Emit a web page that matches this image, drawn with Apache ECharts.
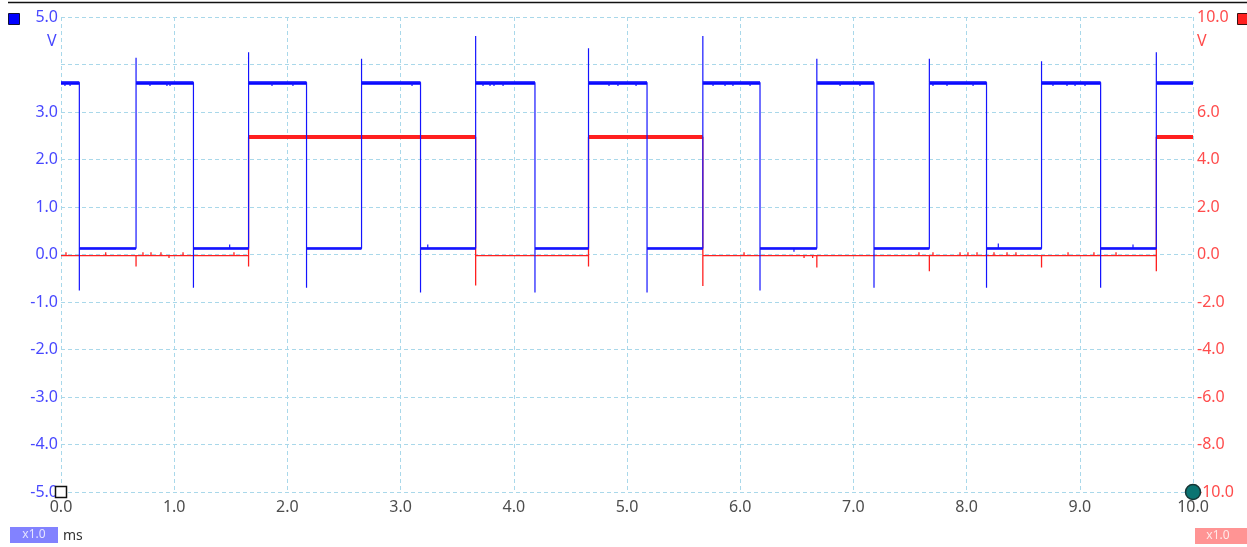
<!DOCTYPE html>
<html>
<head>
<meta charset="utf-8">
<script src="https://cdn.jsdelivr.net/npm/echarts@6/dist/echarts.min.js"></script>
<style>
  html, body { margin: 0; padding: 0; background: #fff; }
  #scope { width: 1247px; height: 547px; }
</style>
</head>
<body>
<div id="scope"></div>
<script>
// time in ms, channel A (blue, left axis, V), channel B (red, right axis, V)
const xTicks = [0, 1, 2, 3, 4, 5, 6, 7, 8, 9, 10]

const blueHigh = 3.62
const blueLow = 0.13
const blueFall = [0.162, 1.170, 2.169, 3.176, 4.187, 5.177, 6.175, 7.182, 8.176, 9.184]
const blueFallPeak = [-0.76, -0.70, -0.70, -0.80, -0.80, -0.80, -0.76, -0.70, -0.70, -0.70]
const blueRise = [0.663, 1.657, 2.655, 3.663, 4.660, 5.670, 6.677, 7.671, 8.662, 9.676]
const blueRisePeak = [4.14, 4.26, 4.12, 4.60, 4.34, 4.60, 4.12, 4.12, 4.07, 4.26]
// small blips on the plateaus (time, offset)
const blueNoiseT = [0.035, 0.080, 0.786, 0.936, 0.963, 1.49, 1.864, 2.049, 3.101, 3.24, 3.728, 3.790, 3.825, 3.905,
  4.841, 4.920, 5.080, 5.760, 5.866, 5.936, 6.087, 6.475, 6.882, 7.058, 7.703, 7.827, 8.057, 8.28, 8.763, 8.887, 8.958, 9.046, 9.47]
const blueNoiseV = [-0.07, -0.07, -0.07, -0.07, -0.07, 0.08, -0.07, -0.07, -0.07, 0.08, -0.07, -0.07, -0.07, -0.07,
  -0.07, -0.07, -0.07, -0.07, -0.07, -0.07, -0.07, -0.07, -0.07, -0.07, -0.07, -0.07, -0.07, 0.1, -0.07, -0.07, -0.07, -0.07, 0.08]

const redHigh = 4.95
const redLow = -0.05
const redHighStart = [1.657, 4.660, 9.676]
const redHighEnd = [3.663, 5.670, 10.0]
const redGlitchT = [0.663, 1.657, 3.663, 4.660, 5.670, 6.677, 7.671, 8.662, 9.676]
const redGlitchV = [-0.5, -0.5, -1.3, -0.5, -1.33, -0.55, -0.7, -0.55, -0.7]
const redNoiseT = [0.044, 0.395, 0.724, 0.795, 0.883, 0.954, 1.078, 1.528, 6.034, 6.564, 6.640, 7.579, 7.703,
  7.942, 8.012, 8.092, 8.242, 8.357, 8.436, 8.896, 9.125, 9.320]
const redNoiseV = [0.14, 0.14, 0.14, 0.14, 0.14, -0.1, 0.14, 0.14, 0.14, -0.1, -0.1, 0.14, 0.14,
  0.14, 0.14, 0.14, 0.14, 0.14, 0.14, 0.14, 0.14, 0.14]

function blueLevel (t) {
  if (t < blueFall[0]) return blueHigh
  for (let i = 0; i < blueRise.length; i++) {
    const next = i + 1 < blueFall.length ? blueFall[i + 1] : 99
    if (t > blueRise[i] && t < next) return blueHigh
  }
  return blueLow
}

function redLevel (t) {
  for (let i = 0; i < redHighStart.length; i++) {
    if (t > redHighStart[i] && t < redHighEnd[i]) return redHigh
  }
  return redLow
}

function buildBlue () {
  const ev = []
  blueFall.forEach((t, i) => ev.push({ t, p: [[t, blueHigh], [t, blueFallPeak[i]], [t, blueLow]] }))
  blueRise.forEach((t, i) => ev.push({ t, p: [[t, blueLow], [t, blueRisePeak[i]], [t, blueHigh]] }))
  blueNoiseT.forEach((t, i) => {
    const l = blueLevel(t)
    ev.push({ t, p: [[t, l], [t, l + blueNoiseV[i]], [t, l]] })
  })
  ev.sort((a, b) => a.t - b.t)
  let pts = [[0, blueHigh]]
  ev.forEach(e => { pts = pts.concat(e.p) })
  pts.push([10, blueHigh])
  return pts
}

function buildRed () {
  const ev = []
  redGlitchT.forEach((t, i) => {
    ev.push({ t, p: [[t, redLevel(t - 0.001)], [t, redGlitchV[i]], [t, redLevel(t + 0.001)]] })
  })
  redNoiseT.forEach((t, i) => {
    const l = redLevel(t)
    ev.push({ t, p: [[t, l], [t, l + redNoiseV[i]], [t, l]] })
  })
  ev.sort((a, b) => a.t - b.t)
  let pts = [[0, redLow]]
  ev.forEach(e => { pts = pts.concat(e.p) })
  pts.push([10, redLevel(9.999)])
  return pts
}

// thick plateau segments (the scope draws flat parts heavier)
const blueHighSegs = [{ coords: [[0, blueHigh], [blueFall[0], blueHigh]] }]
blueRise.forEach((t, i) => {
  const end = i + 1 < blueFall.length ? blueFall[i + 1] : 10
  blueHighSegs.push({ coords: [[t, blueHigh], [end, blueHigh]] })
})
const blueLowSegs = blueFall.map((t, i) => ({ coords: [[t, blueLow], [blueRise[i], blueLow]] }))
const redHighSegs = redHighStart.map((t, i) => ({ coords: [[t, redHigh], [redHighEnd[i], redHigh]] }))

const FONT = 'Noto Sans'
const gridLine = { show: true, lineStyle: { color: '#a9d8ea', type: [4, 3], width: 1 } }

const myChart = echarts.init(document.getElementById('scope'))
const option = {
  animation: false,
  backgroundColor: '#fff',
  grid: { left: 61, right: 54, top: 17, bottom: 55 },
  xAxis: {
    type: 'value',
    min: 0,
    max: 10,
    interval: 1,
    axisLine: { show: false },
    axisTick: { show: false },
    splitLine: gridLine,
    axisLabel: {
      margin: 7,
      color: '#4d4d4d',
      fontFamily: FONT,
      fontSize: 16,
      customValues: xTicks,
      formatter: v => v.toFixed(1)
    }
  },
  yAxis: [
    {
      type: 'value',
      min: -5,
      max: 5,
      interval: 1,
      axisLine: { show: false },
      axisTick: { show: false },
      splitLine: gridLine,
      axisLabel: {
        margin: 3,
        color: '#4848ff',
        fontFamily: FONT,
        fontSize: 16,
        formatter: v => (v === 4 ? '' : v.toFixed(1))
      }
    },
    {
      type: 'value',
      min: -10,
      max: 10,
      interval: 2,
      position: 'right',
      axisLine: { show: false },
      axisTick: { show: false },
      splitLine: { show: false },
      axisLabel: {
        margin: 4,
        color: '#ff4c4c',
        fontFamily: FONT,
        fontSize: 16,
        formatter: v => (v === 8 ? '' : v.toFixed(1))
      }
    }
  ],
  series: [
    {
      name: 'B',
      type: 'line',
      yAxisIndex: 1,
      data: buildRed(),
      showSymbol: false,
      lineStyle: { color: '#ff2020', width: 1.3 },
      z: 2
    },
    {
      name: 'B high',
      type: 'lines',
      coordinateSystem: 'cartesian2d',
      yAxisIndex: 1,
      data: redHighSegs,
      lineStyle: { color: '#ff2020', width: 4, opacity: 1 },
      z: 2
    },
    {
      name: 'A',
      type: 'line',
      data: buildBlue(),
      showSymbol: false,
      lineStyle: { color: '#1414ff', width: 1.2 },
      z: 3
    },
    {
      name: 'A high',
      type: 'lines',
      coordinateSystem: 'cartesian2d',
      data: blueHighSegs,
      lineStyle: { color: '#0000ff', width: 3.5, opacity: 1 },
      z: 3
    },
    {
      name: 'A low',
      type: 'lines',
      coordinateSystem: 'cartesian2d',
      data: blueLowSegs,
      lineStyle: { color: '#0000ff', width: 2.5, opacity: 1 },
      z: 3
    },
    {
      name: 'cursors',
      type: 'scatter',
      data: [
        { value: [0, -5], symbol: 'rect', symbolSize: 11, itemStyle: { color: '#fff', borderColor: '#111', borderWidth: 1.5, opacity: 1 } },
        { value: [10, -5], symbol: 'circle', symbolSize: 15, itemStyle: { color: '#0b7472', borderColor: '#173636', borderWidth: 1.5, opacity: 1 } }
      ],
      z: 5
    }
  ],
  graphic: [
    { type: 'line', shape: { x1: 8, y1: 2.5, x2: 1247, y2: 2.5 }, style: { stroke: '#111', lineWidth: 1.5 } },
    { type: 'rect', shape: { x: 8.5, y: 13.5, width: 11, height: 11 }, style: { fill: '#0000ff', stroke: '#10103a', lineWidth: 1 } },
    { type: 'rect', shape: { x: 1237.5, y: 13.5, width: 11, height: 11 }, style: { fill: '#ff2020', stroke: '#3a1010', lineWidth: 1 } },
    { type: 'text', left: 47, top: 33, style: { text: 'V', fill: '#4848ff', font: '16px "Noto Sans"' } },
    { type: 'text', left: 1197, top: 33, style: { text: 'V', fill: '#ff4c4c', font: '16px "Noto Sans"' } },
    { type: 'rect', shape: { x: 10, y: 527, width: 48, height: 16 }, style: { fill: '#8282ff' } },
    { type: 'text', x: 34, y: 535, style: { text: 'x1.0', fill: '#e4e4ff', font: '12px "Noto Sans"', align: 'center', verticalAlign: 'middle' } },
    { type: 'text', x: 63, y: 536, style: { text: 'ms', fill: '#333', font: '14px "Noto Sans"', verticalAlign: 'middle' } },
    { type: 'rect', shape: { x: 1195, y: 528, width: 52, height: 16 }, style: { fill: '#ff9494' } },
    { type: 'text', x: 1218, y: 536, style: { text: 'x1.0', fill: '#ffe8e8', font: '12px "Noto Sans"', align: 'center', verticalAlign: 'middle' } }
  ]
}
myChart.setOption(option)
</script>
</body>
</html>
